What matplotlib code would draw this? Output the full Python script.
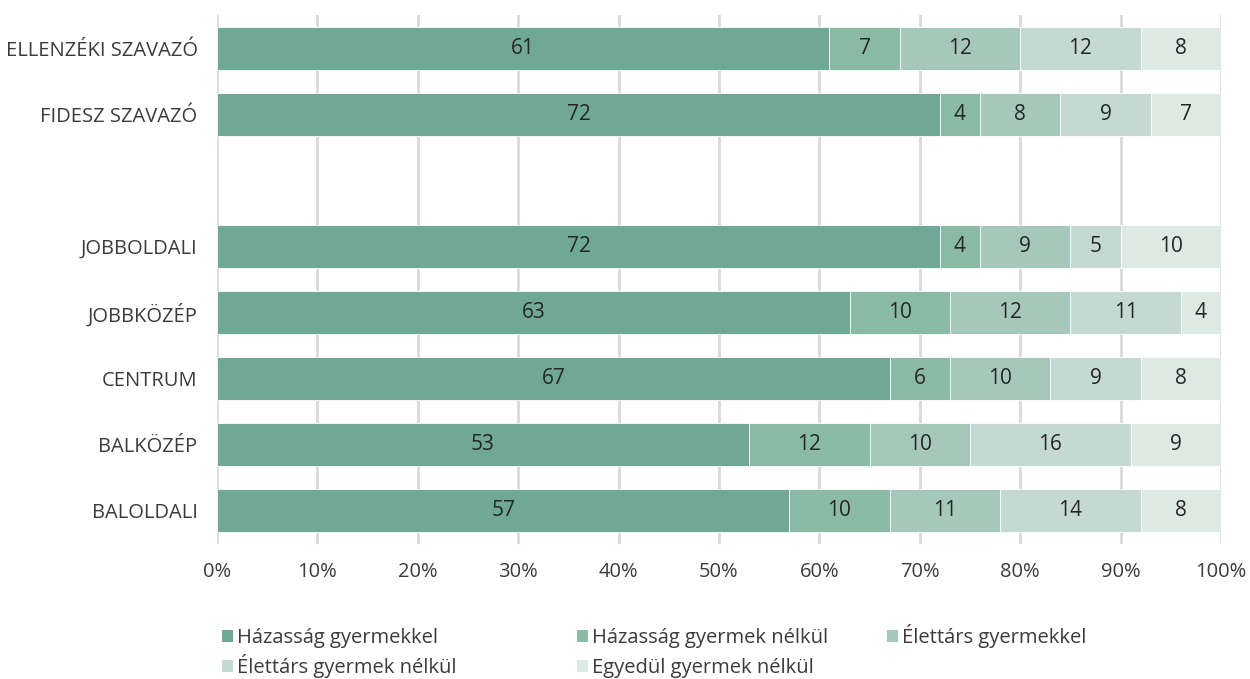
import matplotlib
matplotlib.use("Agg")
import matplotlib.pyplot as plt
from matplotlib.patches import Patch

plt.rcParams['font.family'] = ['Open Sans', 'DejaVu Sans']

categories = ["ELLENZÉKI SZAVAZÓ", "FIDESZ SZAVAZÓ", "", "JOBBOLDALI", "JOBBKÖZÉP",
              "CENTRUM", "BALKÖZÉP", "BALOLDALI"]
series_names = ["Házasság gyermekkel", "Házasság gyermek nélkül", "Élettárs gyermekkel",
                "Élettárs gyermek nélkül", "Egyedül gyermek nélkül"]
hazassag_gyermekkel = [61, 72, None, 72, 63, 67, 53, 57]
hazassag_nelkul = [7, 4, None, 4, 10, 6, 12, 10]
elettars_gyermekkel = [12, 8, None, 9, 12, 10, 10, 11]
elettars_nelkul = [12, 9, None, 5, 11, 9, 16, 14]
egyedul_nelkul = [8, 7, None, 10, 4, 8, 9, 8]
series = [hazassag_gyermekkel, hazassag_nelkul, elettars_gyermekkel, elettars_nelkul, egyedul_nelkul]
colors = ["#6fa995", "#8ab9a6", "#a6c8ba", "#c3d9d1", "#dde9e3"]
xticks = [0, 10, 20, 30, 40, 50, 60, 70, 80, 90, 100]

FS = 14.5
fig = plt.figure(figsize=(12.5, 6.79), dpi=100)
ax = fig.add_axes([217/1250, 1-544/679, (1221-217)/1250, (544-15)/679])

txtc = "#3b3b3b"
ypos = list(range(len(categories)))
left = [0.0] * len(categories)
handles = []
for vals, col, name in zip(series, colors, series_names):
    ys = [y for y, v in zip(ypos, vals) if v is not None]
    ws = [v for v in vals if v is not None]
    ls = [left[y] for y in ys]
    bars = ax.barh(ys, ws, left=ls, height=0.65, color=col, edgecolor="white", linewidth=0.6, zorder=3)
    for b, w in zip(bars, ws):
        ax.text(b.get_x() + b.get_width()/2, b.get_y() + b.get_height()/2, f"{w}",
                ha="center", va="center", fontsize=15, color="#262626", zorder=4)
    for y, w in zip(ys, ws):
        left[y] += w
    handles.append(Patch(facecolor=col, label=name))

ax.set_xlim(0, 100)
ax.set_ylim(len(categories) - 0.5, -0.5)
ax.set_yticks(ypos)
ax.set_yticklabels(categories, fontsize=FS, color=txtc)
ax.set_xticks(xticks)
ax.set_xticklabels([f"{t}%" for t in xticks], fontsize=FS, color=txtc)
ax.tick_params(axis="y", length=0, pad=14)
ax.tick_params(axis="x", length=0, pad=13)
for s in ax.spines.values():
    s.set_visible(False)
ax.xaxis.grid(True, color="#d9d9d9", linewidth=2, zorder=0)
ax.set_axisbelow(True)

legend_pos = [(222, 648), (577, 648), (887, 648), (222, 678), (577, 678)]
for i, (xpx, ypx) in enumerate(legend_pos):
    lg = fig.legend([handles[i]], [series_names[i]],
                    loc="lower left", bbox_to_anchor=(xpx/1250, 1-ypx/679),
                    frameon=False, fontsize=FS, handlelength=0.55, handleheight=0.55,
                    handletextpad=0.2, borderpad=0, borderaxespad=0)
    for t in lg.get_texts():
        t.set_color(txtc)

fig.savefig("out.png", dpi=100)
